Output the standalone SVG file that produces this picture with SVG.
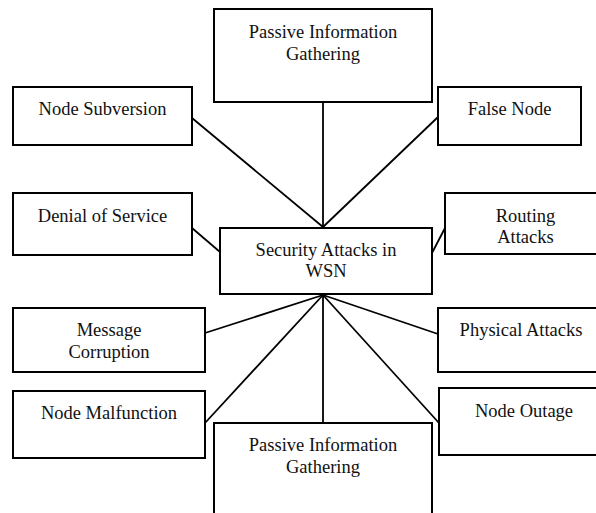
<svg xmlns="http://www.w3.org/2000/svg" width="596" height="513" viewBox="0 0 596 513">
<style>
.box{fill:#fff;stroke:#000;stroke-width:2}
.lbl{font-family:"Liberation Serif","Times New Roman",serif;font-size:18.5px;fill:#111;text-anchor:middle}
.conn line{stroke:#000;stroke-width:1.8}
</style>
<rect width="596" height="513" fill="#fff"/>
<g class="conn" id="connectors">
<line x1="323" y1="102" x2="323" y2="227"/>
<line x1="192" y1="118" x2="323" y2="227"/>
<line x1="438" y1="117" x2="323" y2="227"/>
<line x1="192" y1="228" x2="220" y2="252"/>
<line x1="445" y1="228" x2="432" y2="253"/>
<line x1="205" y1="333" x2="323" y2="295"/>
<line x1="205" y1="423" x2="323" y2="295"/>
<line x1="438" y1="334" x2="323" y2="295"/>
<line x1="439" y1="423" x2="323" y2="295"/>
<line x1="323" y1="295" x2="323" y2="423"/>
</g>
<g id="passive-top"><rect class="box" x="214" y="9" width="218" height="93"/><text class="lbl" x="323" y="38">Passive Information</text><text class="lbl" x="323" y="60">Gathering</text></g>
<g id="node-subversion"><rect class="box" x="13" y="87" width="179" height="58"/><text class="lbl" x="102.5" y="115">Node Subversion</text></g>
<g id="false-node"><rect class="box" x="438" y="87" width="143" height="58"/><text class="lbl" x="509.5" y="115">False Node</text></g>
<g id="denial-of-service"><rect class="box" x="13" y="193" width="179" height="62"/><text class="lbl" x="102.5" y="222">Denial of Service</text></g>
<g id="routing-attacks"><rect class="box" x="445" y="193" width="161" height="61"/><text class="lbl" x="525.5" y="221.5">Routing</text><text class="lbl" x="525.5" y="243">Attacks</text></g>
<g id="security-attacks"><rect class="box" x="220" y="228" width="212" height="66"/><text class="lbl" x="326" y="256">Security Attacks in</text><text class="lbl" x="326" y="277">WSN</text></g>
<g id="message-corruption"><rect class="box" x="13" y="308" width="192" height="64"/><text class="lbl" x="109" y="336">Message</text><text class="lbl" x="109" y="357.5">Corruption</text></g>
<g id="physical-attacks"><rect class="box" x="438" y="308" width="166" height="64"/><text class="lbl" x="521" y="336">Physical Attacks</text></g>
<g id="node-malfunction"><rect class="box" x="13" y="391" width="192" height="67"/><text class="lbl" x="109" y="418.5">Node Malfunction</text></g>
<g id="node-outage"><rect class="box" x="439" y="388" width="170" height="67"/><text class="lbl" x="524" y="417">Node Outage</text></g>
<g id="passive-bottom"><rect class="box" x="214" y="423" width="218" height="100"/><text class="lbl" x="323" y="451">Passive Information</text><text class="lbl" x="323" y="473">Gathering</text></g>
</svg>
